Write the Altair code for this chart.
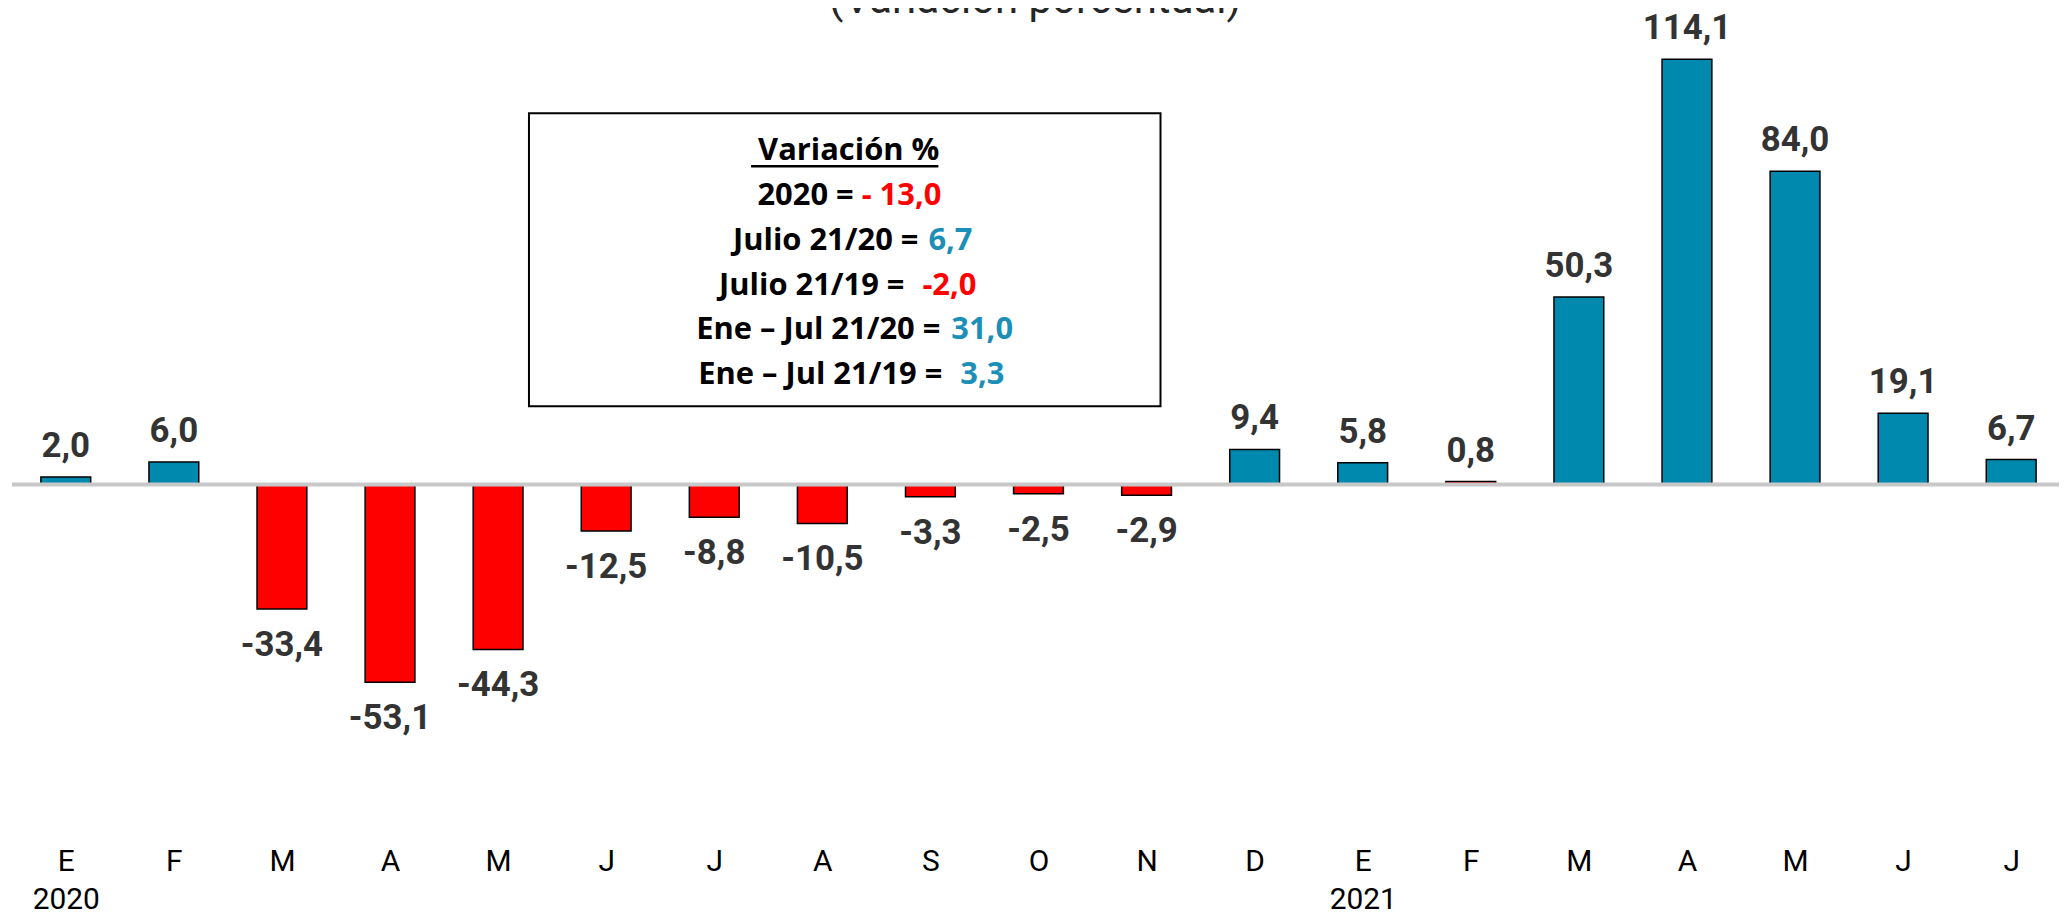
import json
import altair as alt
import pandas as pd

# ---------------- data ----------------
meses = ["E", "F", "M", "A", "M", "J", "J", "A", "S", "O", "N", "D",
         "E", "F", "M", "A", "M", "J", "J"]
anios = ["2020", "", "", "", "", "", "", "", "", "", "", "",
         "2021", "", "", "", "", "", ""]
valores = [2.0, 6.0, -33.4, -53.1, -44.3, -12.5, -8.8, -10.5, -3.3, -2.5,
           -2.9, 9.4, 5.8, 0.8, 50.3, 114.1, 84.0, 19.1, 6.7]

titulo = "(Variación porcentual)"
recuadro_titulo = "Variación %"
recuadro_etiquetas = ["2020 =", "Julio 21/20 =", "Julio 21/19 =",
                      "Ene – Jul 21/20 =", "Ene – Jul 21/19 ="]
recuadro_valores = ["- 13,0", "6,7", "-2,0", "31,0", "3,3"]

# ---------------- layout / style ----------------
W, H = 2055, 832
ROJO = "#FF0000"
AZUL = "#0089AE"
AZUL_TXT = "#1C8FB8"
col_valores = [ROJO, AZUL_TXT, ROJO, AZUL_TXT, AZUL_TXT]
# per line: right edge of black text, left edge of coloured value, baseline
pos_lineas = [(845, 853, 196), (910, 920, 241), (896, 914, 286),
              (932, 943, 331), (934, 952, 376)]

df = pd.DataFrame({
    "idx": list(range(len(valores))),
    "mes": meses,
    "anio": anios,
    "valor": valores,
})

etiquetas_eje = [[m, a] if a else m for m, a in zip(meses, anios)]
label_expr = json.dumps(etiquetas_eje, ensure_ascii=False) + "[datum.value]"

xscale = alt.Scale(domain=[-0.4977, 18.4424], nice=False, zero=False, padding=0)
yscale = alt.Scale(domain=[-95.0, 127.35], nice=False, zero=False, padding=0)

xenc = alt.X(
    "idx:Q", scale=xscale,
    axis=alt.Axis(values=list(range(len(valores))), labelExpr=label_expr,
                  title=None, grid=False, domain=False, ticks=False,
                  tickSize=0, labelPadding=32, labelBaseline="alphabetic",
                  labelFont="Roboto", labelFontSize=30, labelColor="#000000",
                  labelLineHeight=38, labelFlush=False, labelOverlap=False,
                  labelBound=False, labelAlign="center"),
)
yenc = alt.Y("valor:Q", scale=yscale, axis=None, stack=None)

base = alt.Chart(df).transform_calculate(
    lbl="(datum.valor < 0 ? '-' : '') + replace(format(abs(datum.valor), '.1f'), '.', ',')"
)

bars = base.mark_bar(width=50, orient="vertical", stroke="black",
                     strokeWidth=1.5).encode(
    x=xenc, y=yenc,
    color=alt.when(alt.datum.valor < 1).then(alt.value(ROJO)).otherwise(alt.value(AZUL)),
)

cero = alt.Chart(pd.DataFrame({"cero": [0]})).mark_rule(
    color="#C8C8C8", strokeWidth=4).encode(
    y=alt.Y("cero:Q", scale=yscale, axis=None),
    x=alt.value(0), x2=alt.value(W),
)

lab_style = dict(font="Roboto", fontWeight="bold", fontSize=35,
                 color="#333333", baseline="alphabetic", align="center")
pos_lab = base.transform_filter("datum.valor >= 0").mark_text(
    dy=-20, **lab_style).encode(x=xenc, y=yenc, text="lbl:N")
neg_lab = base.transform_filter("datum.valor < 0").mark_text(
    dy=47, **lab_style).encode(x=xenc, y=yenc, text="lbl:N")

dummy = pd.DataFrame({"a": [0]})


def txt(s, x, y, align="center", color="#000000", size=31, weight="bold",
        font="Open Sans"):
    return alt.Chart(dummy).mark_text(
        align=align, baseline="alphabetic", font=font, fontSize=size,
        fontWeight=weight, color=color).encode(
        x=alt.value(x), y=alt.value(y), text=alt.value(s))


caja = alt.Chart(dummy).mark_rect(fill="white", stroke="black",
                                  strokeWidth=2).encode(
    x=alt.value(519), x2=alt.value(1153), y=alt.value(104), y2=alt.value(398))

subrayado = alt.Chart(dummy).mark_rule(color="black", strokeWidth=2.5).encode(
    x=alt.value(742), x2=alt.value(930), y=alt.value(157))

capas = [bars, cero, pos_lab, neg_lab, caja, subrayado,
         txt(recuadro_titulo, 840, 151)]
for etq, val, col, (xr, xl, yb) in zip(recuadro_etiquetas, recuadro_valores,
                                       col_valores, pos_lineas):
    capas.append(txt(etq, xr, yb, align="right"))
    capas.append(txt(val, xl, yb, align="left", color=col))

capas.append(txt(titulo, 1027, 3, font="Roboto", size=42, weight="normal",
                 color="#262626"))

chart = alt.layer(*capas).properties(
    width=W, height=H,
    autosize=alt.AutoSizeParams(type="none"),
    padding={"left": 4, "top": 0, "right": 0, "bottom": 75},
).configure_view(stroke=None)

chart.save("out.html", embed_options={"renderer": "svg", "actions": False})
